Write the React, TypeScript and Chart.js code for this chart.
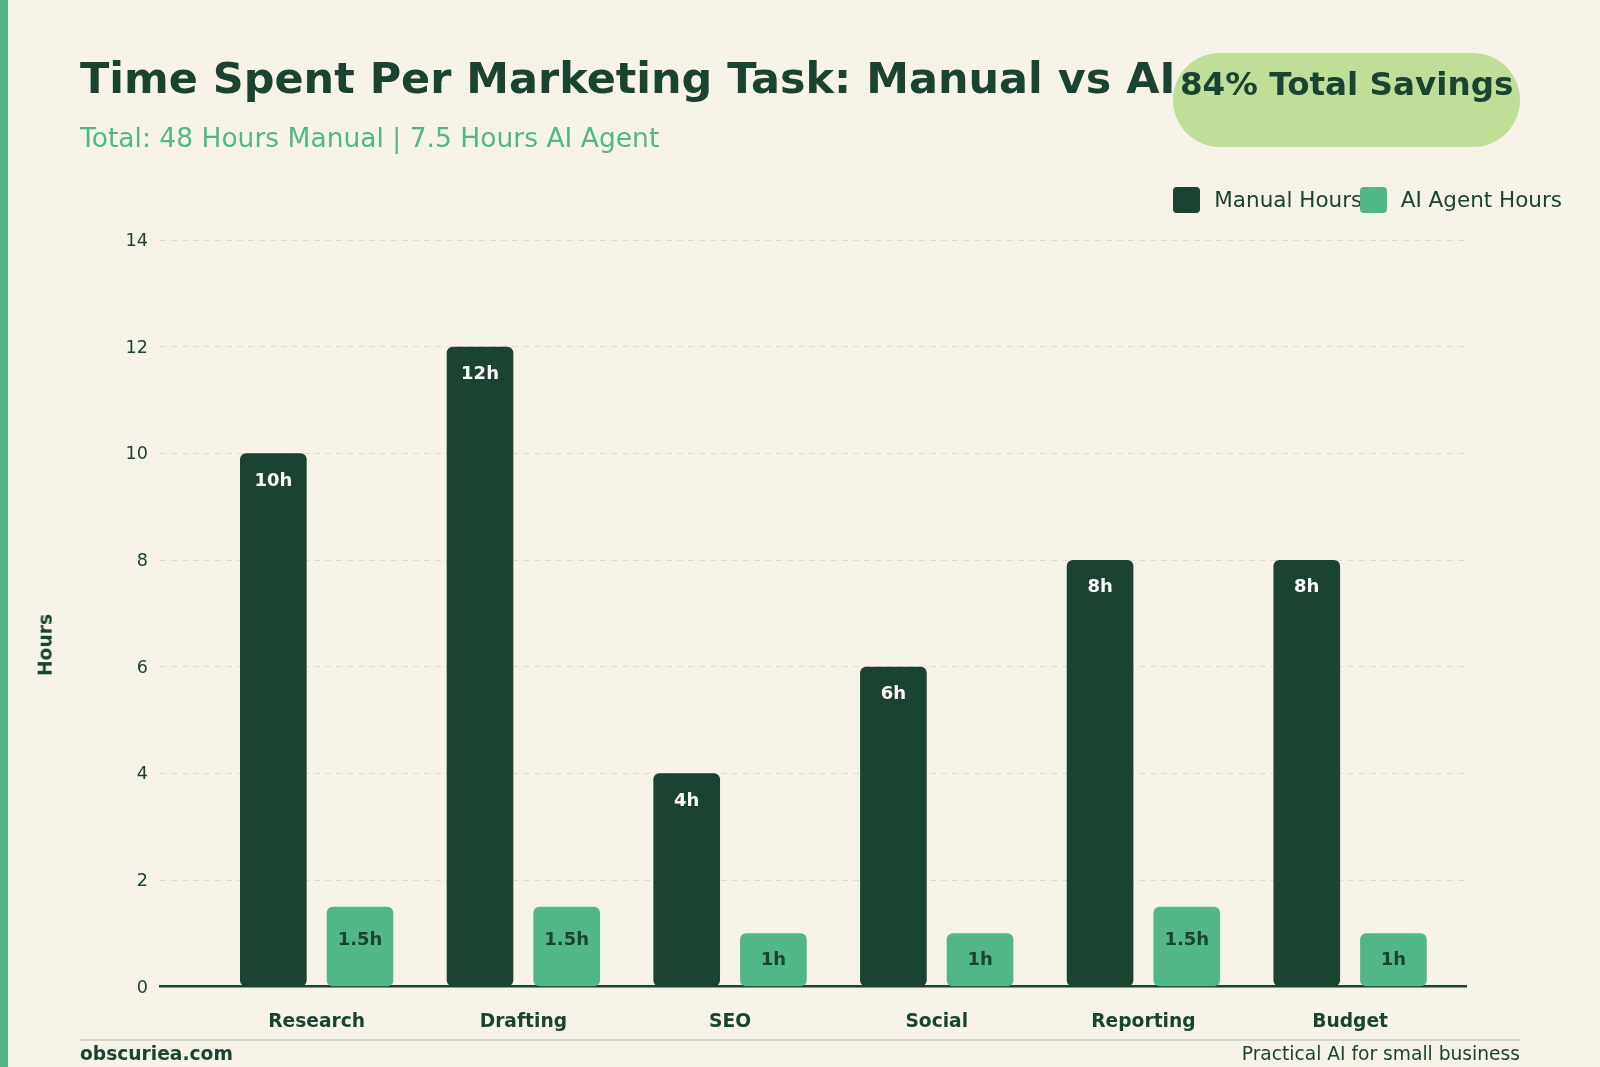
import React, { useEffect, useRef } from "react";
import { Chart, registerables } from "chart.js";

Chart.register(...registerables);

// ---- data ----
const categories = ["Research", "Drafting", "SEO", "Social", "Reporting", "Budget"];
const manualHours = [10, 12, 4, 6, 8, 8];
const aiHours = [1.5, 1.5, 1, 1, 1.5, 1];
const seriesNames = ["Manual Hours", "AI Agent Hours"];
const yMin = 0;
const yMax = 14;
const yStep = 2;

const titleText = "Time Spent Per Marketing Task: Manual vs AI";
const subtitleText = "Total: 48 Hours Manual | 7.5 Hours AI Agent";
const badgeText = "84% Total Savings";
const axisTitle = "Hours";
const footerLeft = "obscuriea.com";
const footerRight = "Practical AI for small business";

// ---- style ----
const BG = "#f7f3e8";
const DARK = "#1b4332";
const GREEN = "#52b788";
const BADGE = "#c1de98";
const GRID = "#dedacd";
const FONT = "'DejaVu Sans', sans-serif";

const labelPlugin = {
  id: "barLabels",
  afterDatasetsDraw(chart: any) {
    const ctx = chart.ctx;
    ctx.save();
    ctx.textAlign = "center";
    ctx.textBaseline = "middle";
    ctx.font = `bold 18px ${FONT}`;
    chart.data.datasets.forEach((ds: any, di: number) => {
      const meta = chart.getDatasetMeta(di);
      meta.data.forEach((el: any, i: number) => {
        const v = ds.data[i].y;
        const h = el.base - el.y;
        let y: number;
        if (di === 0) {
          ctx.fillStyle = "#ffffff";
          y = el.y + 27.5;
        } else {
          ctx.fillStyle = DARK;
          y = el.y + 14.2 + 0.25 * h;
        }
        ctx.fillText(`${v}h`, el.x, y);
      });
    });
    ctx.restore();
  },
};

export default function App() {
  const canvasRef = useRef<HTMLCanvasElement | null>(null);

  useEffect(() => {
    document.body.style.margin = "0";
    const canvas = canvasRef.current;
    if (!canvas) return;
    Chart.defaults.font.family = FONT;
    const chart = new Chart(canvas, {
      type: "bar",
      data: {
        datasets: [
          {
            label: seriesNames[0],
            data: categories.map((_, i) => ({ x: i, y: manualHours[i] })),
            backgroundColor: DARK,
            borderRadius: 6,
            borderSkipped: false,
            categoryPercentage: 0.8387,
            barPercentage: 0.769,
          },
          {
            label: seriesNames[1],
            data: categories.map((_, i) => ({ x: i, y: aiHours[i] })),
            backgroundColor: GREEN,
            borderRadius: 6,
            borderSkipped: false,
            categoryPercentage: 0.8387,
            barPercentage: 0.769,
          },
        ],
      },
      options: {
        responsive: false,
        animation: false,
        devicePixelRatio: 1,
        layout: { padding: { left: 100, right: 133.33, top: 240, bottom: 30.33 } },
        plugins: {
          legend: { display: false },
          tooltip: { enabled: false },
          title: { display: false },
        },
        scales: {
          x: {
            type: "linear",
            min: -0.758,
            max: 5.564,
            offset: false,
            grid: { display: false, offset: false, drawTicks: false },
            border: { display: true, color: DARK, width: 2.5 },
            ticks: {
              stepSize: 1,
              includeBounds: false,
              autoSkip: false,
              maxRotation: 0,
              padding: 24,
              color: DARK,
              font: { size: 18.67, weight: "bold" },
              callback: (v: any) => (Number.isInteger(v) && categories[v] !== undefined ? categories[v] : ""),
            },
            afterFit: (s: any) => {
              s.height = 50;
            },
          },
          y: {
            min: yMin,
            max: yMax,
            grid: { color: GRID, lineWidth: 1, drawTicks: false },
            border: { display: false, dash: [6, 5] },
            ticks: {
              stepSize: yStep,
              padding: 12,
              labelOffset: 1.5,
              color: DARK,
              font: { size: 17.6 },
            },
            afterFit: (s: any) => {
              s.width = 60;
            },
          },
        },
      },
      plugins: [labelPlugin],
    } as any);
    return () => chart.destroy();
  }, []);

  const abs = (o: React.CSSProperties): React.CSSProperties => ({ position: "absolute", margin: 0, ...o });

  return (
    <div
      style={{
        position: "fixed",
        left: 0,
        top: 0,
        width: 1600,
        height: 1067,
        background: BG,
        overflow: "hidden",
        fontFamily: FONT,
      }}
    >
      <div style={abs({ left: 0, top: 0, width: 8, height: 1067, background: GREEN })} />
      <canvas ref={canvasRef} width={1600} height={1067} style={abs({ left: 0, top: 0, width: 1600, height: 1067 })} />
      <div
        style={abs({
          left: 80,
          top: 57.0,
          fontSize: 42.95,
          lineHeight: 1,
          fontWeight: "bold",
          color: DARK,
          whiteSpace: "nowrap",
        })}
      >
        {titleText}
      </div>
      <div
        style={abs({
          left: 80,
          top: 124.5,
          fontSize: 26.53,
          lineHeight: 1,
          color: GREEN,
          whiteSpace: "nowrap",
        })}
      >
        {subtitleText}
      </div>
      <div
        style={abs({
          left: 1173.3,
          top: 53.3,
          width: 346.7,
          height: 93.3,
          borderRadius: 47,
          background: BADGE,
        })}
      />
      <div
        style={abs({
          left: 1173.3,
          top: 68.0,
          width: 346.7,
          textAlign: "center",
          fontSize: 32.6,
          lineHeight: 1,
          fontWeight: "bold",
          color: DARK,
          whiteSpace: "nowrap",
        })}
      >
        {badgeText}
      </div>
      {/* legend */}
      <div style={abs({ left: 1173.3, top: 186.7, width: 26.7, height: 26.7, borderRadius: 4, background: DARK })} />
      <div style={abs({ left: 1214.3, top: 189.2, fontSize: 21.5, lineHeight: 1, color: DARK, whiteSpace: "nowrap" })}>
        {seriesNames[0]}
      </div>
      <div style={abs({ left: 1360, top: 186.7, width: 26.7, height: 26.7, borderRadius: 4, background: GREEN })} />
      <div style={abs({ left: 1400.7, top: 189.2, fontSize: 21.5, lineHeight: 1, color: DARK, whiteSpace: "nowrap" })}>
        {seriesNames[1]}
      </div>
      {/* y axis title */}
      <div
        style={abs({
          left: 46.3,
          top: 645,
          transform: "translate(-50%, -50%) rotate(-90deg)",
          fontSize: 18.67,
          lineHeight: 1,
          fontWeight: "bold",
          color: DARK,
          whiteSpace: "nowrap",
        })}
      >
        {axisTitle}
      </div>
      {/* footer */}
      <div style={abs({ left: 80, top: 1039.3, width: 1440, height: 1.4, background: "#d4d8cb" })} />
      <div
        style={abs({
          left: 80,
          top: 1045.2,
          fontSize: 18.67,
          lineHeight: 1,
          fontWeight: "bold",
          color: DARK,
          whiteSpace: "nowrap",
        })}
      >
        {footerLeft}
      </div>
      <div
        style={abs({
          right: 80,
          top: 1045.2,
          fontSize: 18.67,
          lineHeight: 1,
          color: DARK,
          whiteSpace: "nowrap",
        })}
      >
        {footerRight}
      </div>
    </div>
  );
}
